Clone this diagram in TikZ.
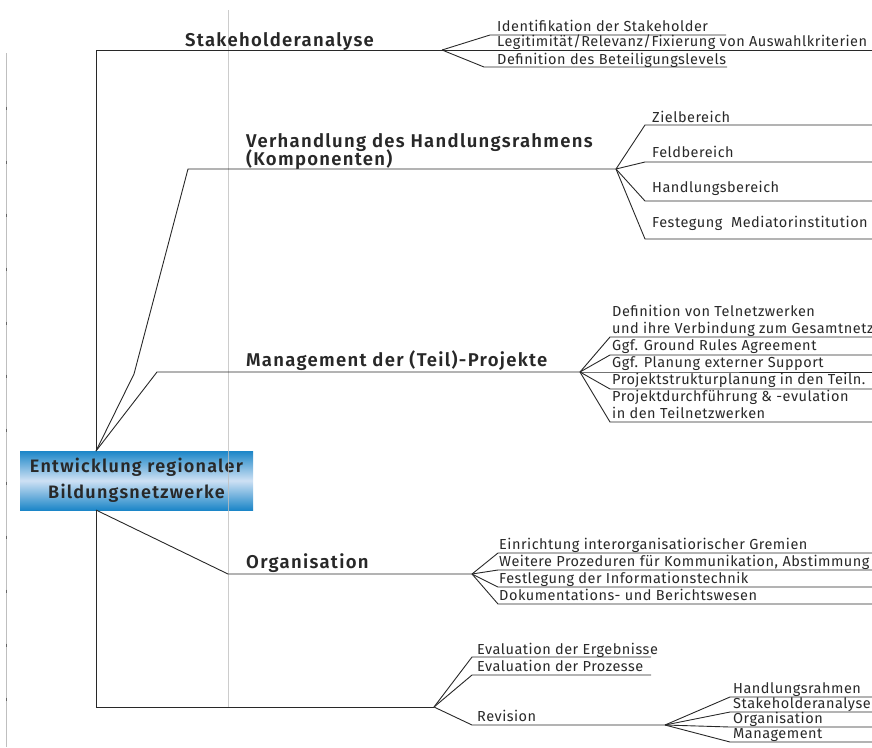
\documentclass[tikz,border=0pt]{standalone}
\usepackage{fontspec}
\setmainfont{Fira Sans}
\newfontfamily\itemfont[LetterSpace=3.5]{Fira Sans}
\newfontfamily\headfont[LetterSpace=7]{Fira Sans SemiBold}
\definecolor{blueD}{RGB}{28,134,200}
\definecolor{blueL}{RGB}{206,225,244}
\definecolor{ink}{RGB}{40,40,40}
\begin{document}
\begin{tikzpicture}[x=1pt,y=-1pt,
  conn/.style={draw=ink, line width=0.9pt},
  guide/.style={draw=black!25, line width=0.8pt},
  tick/.style={draw=black!60, line width=0.9pt},
  item/.style={anchor=base west, inner sep=0pt, font=\itemfont\fontsize{14.5}{15}\selectfont, text=ink},
  head/.style={anchor=base west, inner sep=0pt, font=\headfont\fontsize{18.5}{19}\selectfont, text=ink},
]
\useasboundingbox (0,0) rectangle (872,747);

% left ruler
\draw[guide] (6,53) -- (6,747);
\foreach \t in {108,162,215,269,323,376,430,483,537,591,645,699}
  \draw[tick] (6,\t-1.5) -- (6,\t+1.5);

% root node
\node[shading=axis, top color=blueD, bottom color=blueD, middle color=blueL,
      minimum width=233pt, minimum height=59pt, inner sep=0pt,
      align=center, text=ink, font=\headfont\fontsize{18}{26}\selectfont]
  (root) at (136.5,480.5) {Entwicklung regionaler\\Bildungsnetzwerke};
\coordinate (rt) at (96,451);
\coordinate (rb) at (96,510);

% guide line over the picture
\draw[guide, draw opacity=0.8] (228,10) -- (228,707);

% ---- Stakeholderanalyse
\coordinate (s0) at (442,50);
\draw[conn] (rt) -- (96,50) -- (s0);
\node[head] (sh) at (185,46) {Stakeholderanalyse};
\coordinate (s1) at (490,35); \coordinate (s1e) at (726,35);
\coordinate (s2e) at (872,50);
\coordinate (s3) at (484,67); \coordinate (s3e) at (727,67);
\draw[conn] (s0) -- (s1) -- (s1e);
\draw[conn] (s0) -- (s2e);
\draw[conn] (s0) -- (s3) -- (s3e);
\node[item] (si1) at (497,31.5) {Identifikation der Stakeholder};
\node[item] (si2) at (497,46.5) {Legitimität/Relevanz/Fixierung von Auswahlkriterien};
\node[item] (si3) at (497,64) {Definition des Beteiligungslevels};

% ---- Verhandlung
\coordinate (v0) at (616,169);
\draw[conn] (rt) -- (134,374) -- (188,169) -- (v0);
\node[head] (vh1) at (246,147) {Verhandlung des Handlungsrahmens};
\node[head] (vh2) at (246,165) {(Komponenten)};
\foreach \y/\n in {125/1,162/2,201/3,239/4}{
  \coordinate (v\n) at (645,\y);
  \coordinate (v\n e) at (872,\y);
  \draw[conn] (v0) -- (v\n) -- (v\n e);
}
\node[item] (vi1) at (652,122) {Zielbereich};
\node[item] (vi2) at (652,157) {Feldbereich};
\node[item] (vi3) at (652,192) {Handlungsbereich};
\node[item] (vi4) at (652,227) {Festegung\ \ Mediatorinstitution};

% ---- Management
\coordinate (m0) at (580,372);
\draw[conn] (rt) -- (157,372) -- (m0);
\node[head] (mh) at (246,366) {Management der (Teil)-Projekte};
\foreach \y/\n in {337/1,355/2,372/3,389/4,422/5}{
  \coordinate (m\n) at (610,\y);
  \coordinate (m\n e) at (872,\y);
  \draw[conn] (m0) -- (m\n) -- (m\n e);
}
\node[item] (mi1) at (612,316) {Definition von Telnetzwerken};
\node[item] (mi2) at (612,333) {und ihre Verbindung zum Gesamtnetz};
\node[item] (mi3) at (612,350.5) {Ggf. Ground Rules Agreement};
\node[item] (mi4) at (612,367.5) {Ggf. Planung externer Support};
\node[item] (mi5) at (612,384.5) {Projektstrukturplanung in den Teiln.};
\node[item] (mi6) at (612,401.5) {Projektdurchführung \& -evulation};
\node[item] (mi7) at (612,418.5) {in den Teilnetzwerken};

% ---- Organisation
\coordinate (o0) at (472,574);
\draw[conn] (rb) -- (228,574) -- (o0);
\node[head] (oh) at (246,568) {Organisation};
\foreach \y/\n in {553/1,570/2,587/3,604/4}{
  \coordinate (o\n) at (498,\y);
  \coordinate (o\n e) at (872,\y);
  \draw[conn] (o0) -- (o\n) -- (o\n e);
}
\node[item] (oi1) at (499,549.5) {Einrichtung interorganisatiorischer Gremien};
\node[item] (oi2) at (499,566.5) {Weitere Prozeduren für Kommunikation, Abstimmung};
\node[item] (oi3) at (499,583.5) {Festlegung der Informationstechnik};
\node[item] (oi4) at (499,600.5) {Dokumentations- und Berichtswesen};

% ---- Evaluation / Revision
\coordinate (r0) at (434,707);
\draw[conn] (rb) -- (96,707) -- (r0);
\coordinate (e1) at (472,657); \coordinate (e1e) at (651,657);
\coordinate (e2) at (472,675); \coordinate (e2e) at (651,675);
\coordinate (e3) at (472,725); \coordinate (r1) at (665,725);
\draw[conn] (r0) -- (e1) -- (e1e);
\draw[conn] (r0) -- (e2) -- (e2e);
\draw[conn] (r0) -- (e3) -- (r1);
\node[item] (ei1) at (477,654) {Evaluation der Ergebnisse};
\node[item] (ei2) at (477,671.5) {Evaluation der Prozesse};
\node[item] (ei3) at (477,721.5) {Revision};
\foreach \y/\n in {697/1,712/2,727/3,742/4}{
  \coordinate (q\n) at (730,\y);
  \coordinate (q\n e) at (872,\y);
  \draw[conn] (r1) -- (q\n) -- (q\n e);
}
\node[item] (qi1) at (733,693.5) {Handlungsrahmen};
\node[item] (qi2) at (733,708.5) {Stakeholderanalyse};
\node[item] (qi3) at (733,723.5) {Organisation};
\node[item] (qi4) at (733,738.5) {Management};
\end{tikzpicture}
\end{document}
